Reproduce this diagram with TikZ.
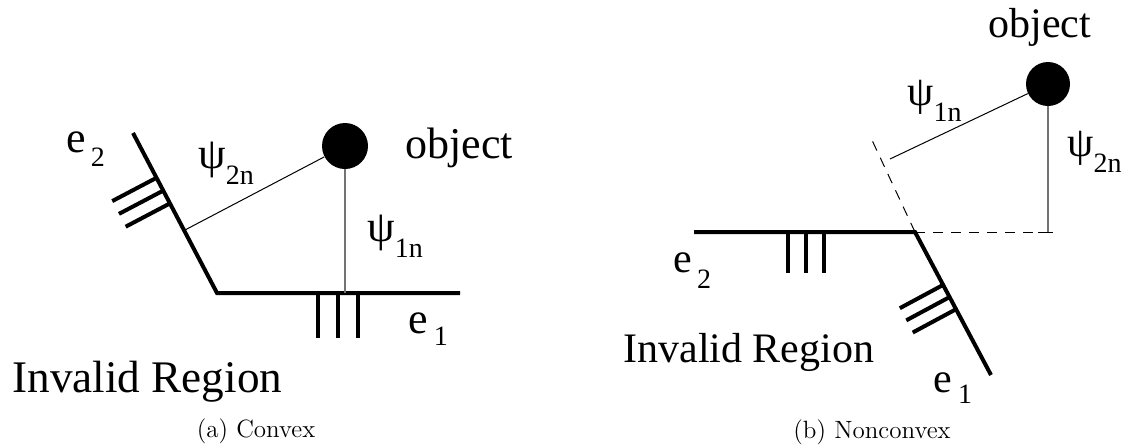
\documentclass[tikz,border=0pt]{standalone}
\usepackage{fontspec}
\setmainfont{Liberation Serif}
\newfontfamily\lmr{Latin Modern Roman}
\usetikzlibrary{calc}
\newcommand\subl[2]{\raisebox{-#1}{\fontsize{14}{14}\selectfont #2}}
\begin{document}
\begin{tikzpicture}[x=0.5pt,y=-0.5pt,
  wall/.style={line width=2pt},
  hatch/.style={line width=2pt},
  thinline/.style={line width=0.5pt},
  grayline/.style={line width=0.7pt,draw=black!55},
  dashline/.style={line width=0.5pt,dash pattern=on 5pt off 4pt},
  obj/.style={circle,fill=black,inner sep=0pt,minimum size=#1},
  lblL/.style={anchor=base west,inner sep=0pt,font=\rmfamily\fontsize{22}{26}\selectfont},
  lblR/.style={anchor=base west,inner sep=0pt,font=\rmfamily\fontsize{21}{25}\selectfont},
  captxt/.style={inner sep=0pt,font=\lmr\fontsize{12.5}{15}\selectfont}]
\useasboundingbox (0,0) rectangle (1136,446);
% ---------- (a) Convex ----------
\coordinate (L2top) at (133,133);
\coordinate (Lc) at (217,293);
\coordinate (L1end) at (460,293);
\draw[wall] (L2top) -- (Lc) -- (L1end);
\foreach \x in {318,338,358} \draw[hatch] (\x,293) -- (\x,338);
\foreach \p in {0,1,2} {
  \coordinate (h) at ($(L2top)!0.28+0.08*\p!(Lc)$);
  \draw[hatch] (h) -- ++(-44.3,23.3);
}
\node[obj=23pt] (Lo) at (345,146) {};
\coordinate (Lfoot1) at (Lo |- Lc);
\coordinate (Lfoot2) at ($(L2top)!(Lo)!(Lc)$);
\draw[grayline] (Lo) -- (Lfoot1);
\draw[thinline] (Lo) -- (Lfoot2);
\node[lblL] (Le2) at (66,152) {e\kern2.5pt\subl{7pt}{2}};
\node[lblL] (Le1) at (408,333) {e\kern3pt\subl{6pt}{1}};
\node[lblL] (Lobj) at (405,158) {object};
\node[lblL] (Lpsi2) at (198,168) {ψ\subl{8pt}{2n}};
\node[lblL] (Lpsi1) at (367,241) {ψ\subl{8pt}{1n}};
\node[lblL,font=\rmfamily\fontsize{22.6}{26}\selectfont] (Linv) at (12,392) {Invalid Region};
\node[captxt] (capa) at (256,431) {(a) Convex};
% ---------- (b) Nonconvex ----------
\coordinate (Rc) at (915,232);
\coordinate (R2end) at (694,232);
\coordinate (R1end) at (991,375);
\coordinate (Rext) at (871,138);
\coordinate (Rhend) at (1048,232);
\draw[wall] (R2end) -- (Rc) -- (R1end);
\draw[dashline] (Rc) -- (Rext);
\draw[dashline] (Rc) -- (Rhend);
\foreach \x in {788,806,824} \draw[hatch] (\x,232) -- (\x,273);
\foreach \p in {0,1,2} {
  \coordinate (h) at ($(Rc)!0.37+0.085*\p!(R1end)$);
  \draw[hatch] (h) -- ++(-43.3,23.3);
}
\node[obj=22pt] (Ro) at (1048,84) {};
\coordinate (Rfoot) at (890,159);
\draw[grayline] (Ro) -- (Rhend);
\draw[thinline] ($(Rhend)+(-10,0)$) -- ($(Rhend)+(5,0)$);
\draw[thinline] (Ro) -- (Rfoot);
\node[lblR] (Robj) at (988,37) {object};
\node[lblR] (Rpsi1) at (907,105) {ψ\subl{8pt}{1n}};
\node[lblR] (Rpsi2) at (1067,156) {ψ\subl{8pt}{2n}};
\node[lblR] (Re2) at (673,272) {e\kern2.5pt\subl{8pt}{2}};
\node[lblR] (Re1) at (933,392) {e\kern3pt\subl{5.5pt}{1}};
\node[lblR] (Rinv) at (623,362) {Invalid Region};
\node[captxt] (capb) at (872,432) {(b) Nonconvex};
\end{tikzpicture}
\end{document}
